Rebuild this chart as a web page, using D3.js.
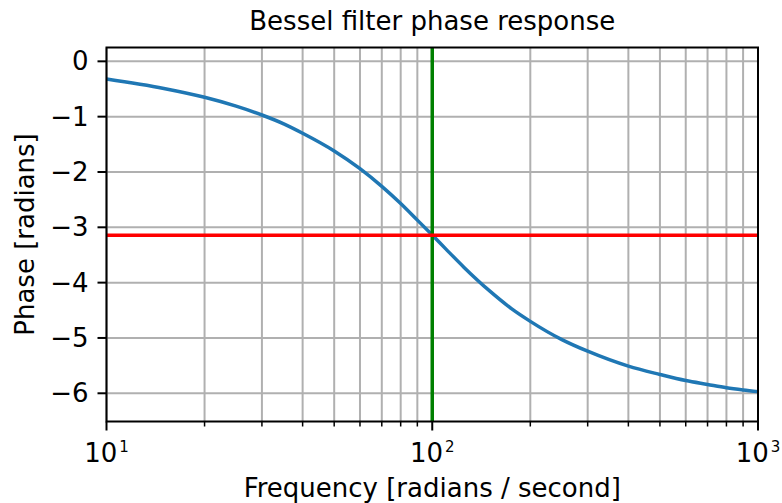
<!DOCTYPE html>
<html>
<head>
<meta charset="utf-8">
<script src="https://cdn.jsdelivr.net/npm/d3@7"></script>
<style>
  html, body { margin: 0; padding: 0; background: #fff; }
  svg text { font-family: "DejaVu Sans", sans-serif; fill: #000; }
</style>
</head>
<body>
<svg id="chart" width="782" height="503"></svg>
<script>
// Frequency samples (rad/s) and unwrapped phase (radians) of the 4th-order Bessel filter
const frequency = [10, 15, 20, 25, 30, 35, 40, 50, 60, 70, 80, 90, 100,
                   110, 125, 150, 175, 200, 250, 300, 400, 500, 600, 700, 800, 900, 1000];
const phase = [-0.32, -0.49, -0.65, -0.81, -0.97, -1.13, -1.30, -1.62, -1.94, -2.26, -2.57, -2.87, -3.14,
               -3.39, -3.72, -4.15, -4.47, -4.70, -5.03, -5.24, -5.51, -5.66, -5.77, -5.84, -5.90, -5.94, -5.97];
const cutoffFrequency = 100;
const phaseMidpoint = -Math.PI;
const yTicks = [0, -1, -2, -3, -4, -5, -6];
const xDecades = [10, 100, 1000];
const xDomain = [10, 1000];
const yDomain = [-6.51, 0.25];

const svg = d3.select("#chart");
const margin = { left: 106.5, right: 24, top: 47.5, bottom: 81.5 };
const W = 782, H = 503;
const x = d3.scaleLog().domain(xDomain).range([margin.left, W - margin.right]);
const y = d3.scaleLinear().domain(yDomain).range([H - margin.bottom, margin.top]);

const gridColor = "#b0b0b0";
const plot = svg.append("g");

// minor + major gridlines on x, major on y
const minorTicks = [];
for (let d = 10; d < 1000; d *= 10) for (let k = 2; k <= 9; k++) minorTicks.push(d * k);
plot.selectAll(".gx").data(minorTicks.concat(xDecades)).enter().append("line")
  .attr("x1", d => x(d)).attr("x2", d => x(d))
  .attr("y1", y.range()[0]).attr("y2", y.range()[1])
  .attr("stroke", gridColor).attr("stroke-width", 2);
plot.selectAll(".gy").data(yTicks).enter().append("line")
  .attr("x1", x.range()[0]).attr("x2", x.range()[1])
  .attr("y1", d => y(d)).attr("y2", d => y(d))
  .attr("stroke", gridColor).attr("stroke-width", 2);

// phase curve
const pts = frequency.map((f, i) => [f, phase[i]]);
plot.append("path").datum(pts)
  .attr("fill", "none").attr("stroke", "#1f77b4").attr("stroke-width", 3.5)
  .attr("d", d3.line().x(d => x(d[0])).y(d => y(d[1])).curve(d3.curveMonotoneX));

// cutoff frequency and phase midpoint markers
plot.append("line")
  .attr("x1", x(cutoffFrequency)).attr("x2", x(cutoffFrequency))
  .attr("y1", y.range()[0]).attr("y2", y.range()[1])
  .attr("stroke", "green").attr("stroke-width", 3.5);
plot.append("line")
  .attr("x1", x.range()[0]).attr("x2", x.range()[1])
  .attr("y1", y(phaseMidpoint)).attr("y2", y(phaseMidpoint))
  .attr("stroke", "red").attr("stroke-width", 3.5);

// frame
svg.append("rect")
  .attr("x", margin.left).attr("y", margin.top)
  .attr("width", W - margin.left - margin.right).attr("height", H - margin.top - margin.bottom)
  .attr("fill", "none").attr("stroke", "#000").attr("stroke-width", 2);

// axes
const fs = 26;
const xAxis = svg.append("g").attr("transform", `translate(0,${y.range()[0]})`);
xAxis.selectAll(".minor").data(minorTicks).enter().append("line")
  .attr("x1", d => x(d)).attr("x2", d => x(d)).attr("y1", 0).attr("y2", 5)
  .attr("stroke", "#000").attr("stroke-width", 1.5);
xAxis.selectAll(".major").data(xDecades).enter().append("line")
  .attr("x1", d => x(d)).attr("x2", d => x(d)).attr("y1", 0).attr("y2", 9)
  .attr("stroke", "#000").attr("stroke-width", 2);
const xl = xAxis.selectAll(".lab").data(xDecades).enter().append("text")
  .attr("x", d => x(d)).attr("y", 40).attr("text-anchor", "middle")
  .style("font-size", fs + "px");
xl.append("tspan").text("10");
xl.append("tspan").attr("dx", 2).attr("dy", -10).style("font-size", "15px")
  .text(d => Math.round(Math.log10(d)));

const yAxis = svg.append("g").attr("transform", `translate(${x.range()[0]},0)`);
yAxis.selectAll("line").data(yTicks).enter().append("line")
  .attr("x1", -9).attr("x2", 0).attr("y1", d => y(d)).attr("y2", d => y(d))
  .attr("stroke", "#000").attr("stroke-width", 2);
yAxis.selectAll("text").data(yTicks).enter().append("text")
  .attr("x", -18).attr("y", d => y(d)).attr("dy", "0.35em")
  .attr("text-anchor", "end").style("font-size", fs + "px")
  .text(d => d === 0 ? "0" : "\u2212" + Math.abs(d));

// titles
svg.append("text").attr("x", (x.range()[0] + x.range()[1]) / 2).attr("y", 30)
  .attr("text-anchor", "middle").style("font-size", fs + "px")
  .text("Bessel filter phase response");
svg.append("text").attr("x", (x.range()[0] + x.range()[1]) / 2).attr("y", 497)
  .attr("text-anchor", "middle").style("font-size", fs + "px")
  .text("Frequency [radians / second]");
svg.append("text")
  .attr("transform", `translate(34,${(y.range()[0] + y.range()[1]) / 2}) rotate(-90)`)
  .attr("text-anchor", "middle").style("font-size", fs + "px")
  .text("Phase [radians]");
</script>
</body>
</html>
